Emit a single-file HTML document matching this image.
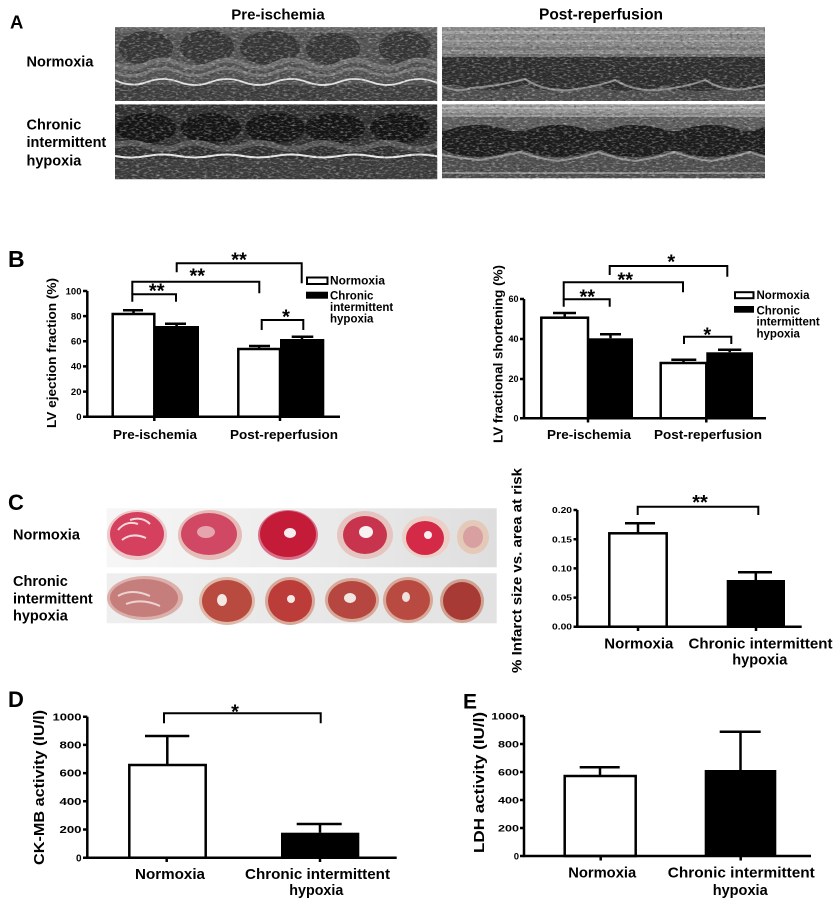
<!DOCTYPE html>
<html><head><meta charset="utf-8"><style>
html,body{margin:0;padding:0;background:#fff;}
svg{display:block;}
text{font-family:"Liberation Sans",Arial,sans-serif;font-weight:bold;fill:#000;}
</style></head><body>
<svg width="838" height="904" viewBox="0 0 838 904" xmlns="http://www.w3.org/2000/svg">
<defs>
<clipPath id="cA1"><rect x="115" y="27.3" width="322.3" height="73.7"/></clipPath>
<clipPath id="cA2"><rect x="115" y="104.3" width="322.3" height="75"/></clipPath>
<clipPath id="cA3"><rect x="442" y="27.3" width="323" height="73.7"/></clipPath>
<clipPath id="cA4"><rect x="442" y="104.3" width="323" height="74"/></clipPath>
<filter id="nzw" x="0" y="0" width="1" height="1">
 <feTurbulence type="fractalNoise" baseFrequency="0.25 0.6" numOctaves="2" seed="7"/>
 <feColorMatrix type="matrix" values="0 0 0 0 1  0 0 0 0 1  0 0 0 0 1  1.2 0 0 0 -0.58"/>
</filter>
<filter id="nzb" x="0" y="0" width="1" height="1">
 <feTurbulence type="fractalNoise" baseFrequency="0.3 0.5" numOctaves="2" seed="19"/>
 <feColorMatrix type="matrix" values="0 0 0 0 0  0 0 0 0 0  0 0 0 0 0  -1.2 0 0 0 0.52"/>
</filter>
<linearGradient id="strip1" x1="0" x2="1" y1="0" y2="0">
 <stop offset="0" stop-color="#f6f6f6"/><stop offset="0.5" stop-color="#ececec"/><stop offset="1" stop-color="#dedede"/>
</linearGradient>
<linearGradient id="strip2" x1="0" x2="1" y1="0" y2="0">
 <stop offset="0" stop-color="#eeeeee"/><stop offset="1" stop-color="#e2e2e2"/>
</linearGradient>
</defs>

<!-- ================= PANEL A ================= -->
<text x="10" y="28.5" font-size="18.5">A</text>
<text x="278" y="19.5" font-size="15" text-anchor="middle">Pre-ischemia</text>
<text x="601" y="19.5" font-size="15.5" text-anchor="middle">Post-reperfusion</text>
<text x="26.5" y="66.5" font-size="14.5">Normoxia</text>
<text x="26.5" y="129.5" font-size="14.5">Chronic</text>
<text x="26.5" y="147" font-size="14.5">intermittent</text>
<text x="26.5" y="165.5" font-size="14.5">hypoxia</text>

<!-- A1 -->
<g clip-path="url(#cA1)">
 <rect x="115" y="27" width="323" height="75" fill="#525252"/>
 <rect x="115" y="27" width="323" height="6" fill="#626262"/>
 <g fill="#363636">
  <ellipse cx="146" cy="48" rx="27" ry="17"/>
  <ellipse cx="207" cy="47" rx="27" ry="17"/>
  <ellipse cx="270" cy="48" rx="30" ry="17"/>
  <ellipse cx="333" cy="49" rx="27" ry="16"/>
  <ellipse cx="405" cy="48" rx="26" ry="17"/>
 </g>
 <path d="M115 64 Q131 72 147 64 T179 64 T211 64 T243 64 T275 64 T307 64 T339 64 T371 64 T403 64 T435 64 T467 64" stroke="#6e6e6e" stroke-width="5" fill="none"/>
 <path d="M115 72 Q131 79 147 72 T179 72 T211 72 T243 72 T275 72 T307 72 T339 72 T371 72 T403 72 T435 72 T467 72" stroke="#747474" stroke-width="3" fill="none"/>
 <rect x="115" y="85" width="323" height="17" fill="#3e3e3e"/>
 <path d="M115 80 Q131 88 147 82 T179 82 T211 82 T243 82 T275 82 T307 82 T339 82 T371 82 T403 82 T435 82 T467 82" stroke="#e2e2e2" stroke-width="1.8" fill="none"/>
</g>

<!-- A2 -->
<g clip-path="url(#cA2)">
 <rect x="115" y="104" width="323" height="76" fill="#303030"/>
 <g fill="#141414">
  <ellipse cx="146" cy="128" rx="30" ry="15"/>
  <ellipse cx="211" cy="128" rx="30" ry="15"/>
  <ellipse cx="275" cy="128" rx="30" ry="15"/>
  <ellipse cx="335" cy="128" rx="30" ry="15"/>
  <ellipse cx="400" cy="128" rx="30" ry="15"/>
 </g>
 <path d="M115 146 Q131 140 147 146 T179 146 T211 146 T243 146 T275 146 T307 146 T339 146 T371 146 T403 146 T435 146 T467 146" stroke="#555" stroke-width="6" fill="none"/>
 <rect x="115" y="159" width="323" height="21" fill="#3c3c3c"/>
 <path d="M115 156 Q131 159 147 156 T179 156 T211 156 T243 156 T275 156 T307 156 T339 156 T371 156 T403 156 T435 156 T467 156" stroke="#e6e6e6" stroke-width="2" fill="none"/>
</g>

<!-- A3 -->
<g clip-path="url(#cA3)">
 <rect x="442" y="27" width="324" height="75" fill="#4e4e4e"/>
 <rect x="442" y="27" width="324" height="27" fill="#868686"/>
 <rect x="442" y="31" width="324" height="3" fill="#a0a0a0"/>
 <rect x="442" y="40" width="324" height="2" fill="#989898"/>
 <rect x="442" y="47" width="324" height="3" fill="#767676"/>
 <rect x="442" y="54" width="324" height="4" fill="#6a6a6a"/>
 <rect x="442" y="57" width="324" height="28" fill="#2e2e2e"/>
 <g fill="#2e2e2e">
  <ellipse cx="490" cy="83" rx="32" ry="7"/>
  <ellipse cx="560" cy="84" rx="32" ry="7"/>
  <ellipse cx="630" cy="84" rx="32" ry="7"/>
  <ellipse cx="700" cy="84" rx="32" ry="7"/>
  <ellipse cx="755" cy="83" rx="25" ry="7"/>
 </g>
 <path d="M442 86 Q457 93 472 88 Q500 86 525 79 Q545 92 570 90 Q600 86 615 80 Q635 92 660 90 Q690 86 705 80 Q725 92 745 89 Q760 86 770 84" stroke="#8c8c8c" stroke-width="2" fill="none"/>
</g>

<!-- A4 -->
<g clip-path="url(#cA4)">
 <rect x="442" y="104" width="324" height="75" fill="#4e4e4e"/>
 <rect x="442" y="104" width="324" height="13" fill="#939393"/>
 <rect x="442" y="107" width="324" height="2" fill="#ababab"/>
 <rect x="442" y="113" width="324" height="2" fill="#808080"/>
 <rect x="442" y="117" width="324" height="11" fill="#5c5c5c"/>
 <rect x="442" y="131" width="324" height="20" fill="#222"/>
 <g fill="#1c1c1c">
  <ellipse cx="478" cy="141" rx="40" ry="16"/>
  <ellipse cx="558" cy="141" rx="40" ry="16"/>
  <ellipse cx="635" cy="141" rx="40" ry="16"/>
  <ellipse cx="711" cy="141" rx="40" ry="16"/>
  <ellipse cx="768" cy="141" rx="20" ry="14"/>
 </g>
 <path d="M442 155 Q460 158 478 160 Q505 156 520 152 Q540 159 558 161 Q585 157 598 152 Q617 159 635 161 Q660 157 675 152 Q692 159 711 161 Q735 157 750 152 Q760 156 770 158" stroke="#8e8e8e" stroke-width="2" fill="none"/>
 <rect x="442" y="172" width="324" height="2" fill="#8a8a8a"/>
</g>

<!-- noise -->
<rect x="115" y="27" width="650" height="153" filter="url(#nzw)"/>
<rect x="115" y="27" width="650" height="153" filter="url(#nzb)"/>
<rect x="437.3" y="20" width="4.7" height="165" fill="#fff"/>
<rect x="110" y="101" width="660" height="3.3" fill="#fff"/>
<rect x="110" y="179.3" width="660" height="6" fill="#fff"/>
<rect x="765" y="20" width="10" height="165" fill="#fff"/>

<!-- ================= PANEL B LEFT ================= -->
<text x="8" y="267" font-size="23">B</text>
<text transform="translate(51.7,353) rotate(-90)" font-size="13" text-anchor="middle" dominant-baseline="central" textLength="150" lengthAdjust="spacingAndGlyphs">LV ejection fraction (%)</text>
<g font-size="9.5" text-anchor="end">
 <text x="81.5" y="294.3">100</text>
 <text x="81.5" y="319.4">80</text>
 <text x="81.5" y="344.6">60</text>
 <text x="81.5" y="369.7">40</text>
 <text x="81.5" y="394.9">20</text>
 <text x="81.5" y="420">0</text>
</g>
<rect x="112.7" y="314" width="41.6" height="102.7" fill="#fff" stroke="#000" stroke-width="2.5"/>
<rect x="154.3" y="326" width="44.7" height="90.7" fill="#000"/>
<rect x="238.3" y="349" width="41.7" height="67.7" fill="#fff" stroke="#000" stroke-width="2.5"/>
<rect x="280" y="339" width="44.3" height="77.7" fill="#000"/>
<g stroke="#000" stroke-width="2.5" fill="none">
 <path d="M87.3 291 V416.7 H340"/>
 <path d="M83 291H87.3 M83 316.1H87.3 M83 341.3H87.3 M83 366.4H87.3 M83 391.6H87.3 M83 416.7H87.3"/>
 <path d="M154.3 416.7V421 M280 416.7V421"/>
 <path d="M133.5 314V310.3 M123 310.3H143"/>
 <path d="M176.6 326V323.7 M165 323.7H186"/>
 <path d="M259.2 349V346 M249 346H270"/>
 <path d="M302 339V336.7 M291.7 336.7H313.3"/>
</g>
<g stroke="#000" stroke-width="2" fill="none">
 <path d="M132.3 301.7 V294.3 H176 V301.7"/>
 <path d="M132.3 294.3 V281.7 H259.3 V293.3"/>
 <path d="M176.7 272.3 V263.3 H301.7 V283.3"/>
 <path d="M261.7 330 V320 H303.3 V330"/>
</g>
<g font-size="20" text-anchor="middle">
 <text x="156.7" y="297.5">**</text>
 <text x="197.3" y="282.5">**</text>
 <text x="239" y="266.7">**</text>
 <text x="286" y="323.5">*</text>
</g>
<rect x="307" y="277.5" width="20.5" height="6.5" fill="#fff" stroke="#000" stroke-width="2"/>
<rect x="306" y="291.7" width="22" height="7" fill="#000"/>
<g font-size="11.5">
 <text x="330" y="284.3" textLength="55" lengthAdjust="spacingAndGlyphs">Normoxia</text>
 <text x="330" y="299.3">Chronic</text>
 <text x="330" y="311">intermittent</text>
 <text x="330" y="322.3">hypoxia</text>
</g>
<g font-size="13" text-anchor="middle">
 <text x="155" y="439" textLength="84" lengthAdjust="spacingAndGlyphs">Pre-ischemia</text>
 <text x="284" y="439" textLength="108" lengthAdjust="spacingAndGlyphs">Post-reperfusion</text>
</g>

<!-- ================= PANEL B RIGHT ================= -->
<text transform="translate(498,354) rotate(-90)" font-size="13" text-anchor="middle" dominant-baseline="central" textLength="178" lengthAdjust="spacingAndGlyphs">LV fractional shortening (%)</text>
<g font-size="9" text-anchor="end">
 <text x="518.5" y="302.2">60</text>
 <text x="518.5" y="342.2">40</text>
 <text x="518.5" y="382.2">20</text>
 <text x="518.5" y="421.5">0</text>
</g>
<rect x="541.3" y="317.7" width="46.7" height="100.6" fill="#fff" stroke="#000" stroke-width="2.5"/>
<rect x="588" y="338.3" width="45" height="80" fill="#000"/>
<rect x="660.7" y="363" width="45.6" height="55.3" fill="#fff" stroke="#000" stroke-width="2.5"/>
<rect x="706.3" y="352.3" width="46.7" height="66" fill="#000"/>
<g stroke="#000" stroke-width="2.5" fill="none">
 <path d="M524 299 V418.3 H766"/>
 <path d="M520 299H524 M520 339H524 M520 379H524 M520 418.3H524"/>
 <path d="M588 418.3V422.5 M706.3 418.3V422.5"/>
 <path d="M564.7 317.7V313 M553 313H576"/>
 <path d="M610.5 338.3V334.3 M600 334.3H621"/>
 <path d="M683.5 363V359.7 M671.3 359.7H696.3"/>
 <path d="M729.7 352.3V349.7 M718 349.7H741.3"/>
</g>
<g stroke="#000" stroke-width="2" fill="none">
 <path d="M563.7 306.7 V299.3 H609.7 V306.7"/>
 <path d="M563.7 299.3 V282.3 H683 V292.3"/>
 <path d="M609.7 275 V266 H727.3 V276.7"/>
 <path d="M684 344 V336.7 H731.3 V344"/>
</g>
<g font-size="20" text-anchor="middle">
 <text x="587.3" y="303.7">**</text>
 <text x="625.3" y="286.7">**</text>
 <text x="671.3" y="268.7">*</text>
 <text x="707.3" y="341.3">*</text>
</g>
<rect x="735" y="292.2" width="18.5" height="6" fill="#fff" stroke="#000" stroke-width="2"/>
<rect x="734" y="306" width="20" height="6.7" fill="#000"/>
<g font-size="11.5">
 <text x="756.5" y="299" textLength="53" lengthAdjust="spacingAndGlyphs">Normoxia</text>
 <text x="756.5" y="314.3">Chronic</text>
 <text x="756.5" y="325.7">intermittent</text>
 <text x="756.5" y="337.7">hypoxia</text>
</g>
<g font-size="13" text-anchor="middle">
 <text x="589" y="439" textLength="84" lengthAdjust="spacingAndGlyphs">Pre-ischemia</text>
 <text x="708" y="439" textLength="108" lengthAdjust="spacingAndGlyphs">Post-reperfusion</text>
</g>

<!-- ================= PANEL C ================= -->
<text x="8" y="510" font-size="22">C</text>
<text x="13" y="539.3" font-size="14.5">Normoxia</text>
<text x="13" y="586" font-size="14.5">Chronic</text>
<text x="13" y="603.3" font-size="14.5">intermittent</text>
<text x="13" y="620.5" font-size="14.5">hypoxia</text>

<rect x="106.7" y="508.3" width="390" height="59" fill="url(#strip1)"/>
<rect x="106.7" y="573.3" width="390" height="50" fill="url(#strip2)"/>
<!-- top row hearts -->
<ellipse cx="137" cy="535" rx="30" ry="25" fill="#ecc8c8"/>
<ellipse cx="137" cy="534" rx="27" ry="22" fill="#d4405e"/>
<path d="M118 530 Q126 520 138 524 M122 540 Q132 532 146 538 M130 520 Q142 516 150 524" stroke="#f3d8dc" stroke-width="2" fill="none"/>
<ellipse cx="210" cy="535" rx="32" ry="25" fill="#e6bcb8"/>
<ellipse cx="209" cy="534" rx="28" ry="21" fill="#d04864"/>
<ellipse cx="206" cy="532" rx="9" ry="6" fill="#e6a4ac"/>
<ellipse cx="288" cy="535" rx="30" ry="25" fill="#d87088"/>
<ellipse cx="288" cy="534" rx="28" ry="23" fill="#c41c38"/>
<ellipse cx="290" cy="533" rx="6" ry="5" fill="#f6eeee"/>
<ellipse cx="365" cy="535" rx="28" ry="24" fill="#e6c4c0"/>
<ellipse cx="365" cy="535" rx="22" ry="19" fill="#c8344e"/>
<ellipse cx="366" cy="532" rx="7" ry="6" fill="#f8f2f2"/>
<ellipse cx="426" cy="537" rx="24" ry="21" fill="#ecd0c8"/>
<ellipse cx="425" cy="538" rx="19" ry="17" fill="#d42a48"/>
<ellipse cx="428" cy="535" rx="4" ry="4" fill="#f8f0f0"/>
<ellipse cx="473" cy="537" rx="16" ry="17" fill="#e4c8b8"/>
<ellipse cx="473" cy="537" rx="10" ry="11" fill="#d8a0a0"/>
<!-- bottom row hearts -->
<ellipse cx="145" cy="598" rx="38" ry="22" fill="#dcb0aa"/>
<ellipse cx="144" cy="598" rx="34" ry="19" fill="#c67e7c"/>
<path d="M118 596 Q132 588 150 596 M126 604 Q142 598 160 606" stroke="#ecd4d0" stroke-width="2" fill="none"/>
<ellipse cx="227" cy="601" rx="28" ry="24" fill="#e0b8a8"/>
<ellipse cx="227" cy="601" rx="25" ry="21" fill="#b84a40"/>
<ellipse cx="222" cy="600" rx="5" ry="6" fill="#f4e8e4"/>
<ellipse cx="290" cy="601" rx="25" ry="24" fill="#d8a898"/>
<ellipse cx="290" cy="601" rx="22" ry="21" fill="#bc3c3a"/>
<ellipse cx="291" cy="599" rx="4" ry="4" fill="#f4eae6"/>
<ellipse cx="352" cy="600" rx="27" ry="22" fill="#d8a898"/>
<ellipse cx="352" cy="600" rx="24" ry="19" fill="#b64640"/>
<ellipse cx="350" cy="598" rx="6" ry="5" fill="#f2e6e2"/>
<ellipse cx="408" cy="600" rx="25" ry="23" fill="#d8a898"/>
<ellipse cx="408" cy="600" rx="22" ry="20" fill="#b84a42"/>
<ellipse cx="406" cy="597" rx="4" ry="5" fill="#f0e0dc"/>
<ellipse cx="462" cy="601" rx="22" ry="22" fill="#d0a090"/>
<ellipse cx="462" cy="601" rx="19" ry="19" fill="#a83a36"/>

<!-- C chart -->
<text transform="translate(516.7,570.5) rotate(-90)" font-size="14" text-anchor="middle" dominant-baseline="central" textLength="205" lengthAdjust="spacingAndGlyphs">% Infarct size vs. area at risk</text>
<g font-size="8.5" text-anchor="end">
 <text x="572" y="513" textLength="20" lengthAdjust="spacingAndGlyphs">0.20</text>
 <text x="572" y="542.3" textLength="20" lengthAdjust="spacingAndGlyphs">0.15</text>
 <text x="572" y="571.5" textLength="20" lengthAdjust="spacingAndGlyphs">0.10</text>
 <text x="572" y="600.7" textLength="20" lengthAdjust="spacingAndGlyphs">0.05</text>
 <text x="572" y="629.7" textLength="20" lengthAdjust="spacingAndGlyphs">0.00</text>
</g>
<rect x="609.3" y="533.3" width="57.4" height="93.4" fill="#fff" stroke="#000" stroke-width="2.5"/>
<rect x="726.7" y="580" width="58.3" height="46.7" fill="#000"/>
<g stroke="#000" stroke-width="2.5" fill="none">
 <path d="M577.3 510 V626.7 H801.7"/>
 <path d="M573.5 510H577.3 M573.5 539.2H577.3 M573.5 568.4H577.3 M573.5 597.6H577.3 M573.5 626.7H577.3"/>
 <path d="M638 626.7V631 M756 626.7V631"/>
 <path d="M638 533.3V523.3 M625 523.3H655"/>
 <path d="M755.8 580V572.3 M738 572.3H772"/>
</g>
<path d="M637.7 515 V506.7 H758.3 V515" stroke="#000" stroke-width="2" fill="none"/>
<text x="700" y="508.8" font-size="20" text-anchor="middle">**</text>
<g font-size="15" text-anchor="middle">
 <text x="638.8" y="648.3" textLength="69" lengthAdjust="spacingAndGlyphs">Normoxia</text>
 <text x="760.5" y="648.3" textLength="144" lengthAdjust="spacingAndGlyphs">Chronic intermittent</text>
 <text x="759.8" y="664.5" textLength="55" lengthAdjust="spacingAndGlyphs">hypoxia</text>
</g>

<!-- ================= PANEL D ================= -->
<text x="8" y="707" font-size="22">D</text>
<text transform="translate(39.3,787.5) rotate(-90)" font-size="15" text-anchor="middle" dominant-baseline="central" textLength="155" lengthAdjust="spacingAndGlyphs">CK-MB activity (IU/l)</text>
<g font-size="10" text-anchor="end">
 <text x="81.5" y="720.3" textLength="29" lengthAdjust="spacingAndGlyphs">1000</text>
 <text x="81.5" y="748.5" textLength="22" lengthAdjust="spacingAndGlyphs">800</text>
 <text x="81.5" y="776.7" textLength="22" lengthAdjust="spacingAndGlyphs">600</text>
 <text x="81.5" y="804.9" textLength="22" lengthAdjust="spacingAndGlyphs">400</text>
 <text x="81.5" y="833.1" textLength="22" lengthAdjust="spacingAndGlyphs">200</text>
 <text x="81.5" y="861.3">0</text>
</g>
<rect x="129.3" y="765" width="76.4" height="92.7" fill="#fff" stroke="#000" stroke-width="2.5"/>
<rect x="281" y="832.7" width="78.3" height="25" fill="#000"/>
<g stroke="#000" stroke-width="2.5" fill="none">
 <path d="M87.3 716.7 V857.7 H396.7"/>
 <path d="M83 716.7H87.3 M83 744.9H87.3 M83 773.1H87.3 M83 801.3H87.3 M83 829.5H87.3 M83 857.7H87.3"/>
 <path d="M166.7 857.7V862 M320 857.7V862"/>
 <path d="M167.3 765V736 M145 736H189.3"/>
 <path d="M320 832.7V824 M296.7 824H341.7"/>
</g>
<path d="M164 723.3 V713.3 H320.7 V723.3" stroke="#000" stroke-width="2" fill="none"/>
<text x="235" y="718.7" font-size="20" text-anchor="middle">*</text>
<g font-size="15" text-anchor="middle">
 <text x="170" y="879" textLength="70" lengthAdjust="spacingAndGlyphs">Normoxia</text>
 <text x="317.5" y="879" textLength="145" lengthAdjust="spacingAndGlyphs">Chronic intermittent</text>
 <text x="316.3" y="895" textLength="54" lengthAdjust="spacingAndGlyphs">hypoxia</text>
</g>

<!-- ================= PANEL E ================= -->
<text x="463" y="708.3" font-size="21">E</text>
<text transform="translate(479.7,782.5) rotate(-90)" font-size="15" text-anchor="middle" dominant-baseline="central" textLength="141" lengthAdjust="spacingAndGlyphs">LDH activity (IU/l)</text>
<g font-size="9.5" text-anchor="end">
 <text x="519" y="719.5" textLength="27.7" lengthAdjust="spacingAndGlyphs">1000</text>
 <text x="519" y="747.5" textLength="21" lengthAdjust="spacingAndGlyphs">800</text>
 <text x="519" y="775.5" textLength="21" lengthAdjust="spacingAndGlyphs">600</text>
 <text x="519" y="803.5" textLength="21" lengthAdjust="spacingAndGlyphs">400</text>
 <text x="519" y="831.5" textLength="21" lengthAdjust="spacingAndGlyphs">200</text>
 <text x="519" y="859.5">0</text>
</g>
<rect x="564.7" y="776" width="71" height="80" fill="#fff" stroke="#000" stroke-width="2.5"/>
<rect x="704.7" y="770" width="71.6" height="86" fill="#000"/>
<g stroke="#000" stroke-width="2.5" fill="none">
 <path d="M524 716 V856 H811"/>
 <path d="M520 716H524 M520 744H524 M520 772H524 M520 800H524 M520 828H524 M520 856H524"/>
 <path d="M600.7 856V860.5 M740.7 856V860.5"/>
 <path d="M600 776V767.3 M579.7 767.3H619.7"/>
 <path d="M740.5 770V731.7 M719.7 731.7H760.7"/>
</g>
<g font-size="15" text-anchor="middle">
 <text x="602.2" y="877.3" textLength="68" lengthAdjust="spacingAndGlyphs">Normoxia</text>
 <text x="741.3" y="877.3" textLength="147" lengthAdjust="spacingAndGlyphs">Chronic intermittent</text>
 <text x="740.2" y="895" textLength="55" lengthAdjust="spacingAndGlyphs">hypoxia</text>
</g>
</svg>
</body></html>
